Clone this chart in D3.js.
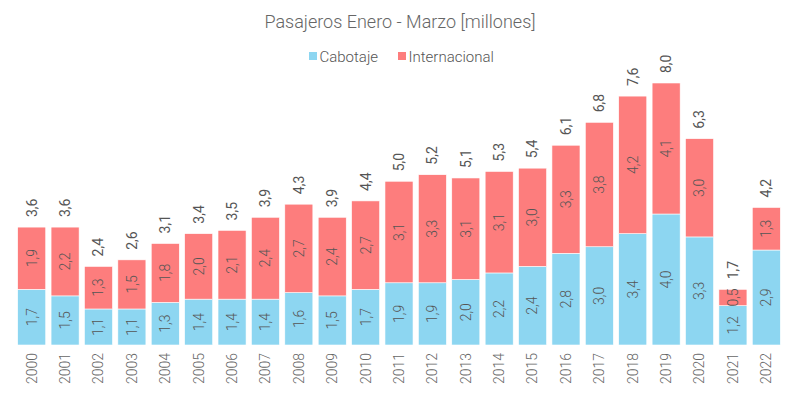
<!DOCTYPE html>
<html>
<head>
<meta charset="utf-8">
<script src="https://cdn.jsdelivr.net/npm/d3@7"></script>
<style>
  html, body { margin: 0; padding: 0; background: #fff; }
  svg { display: block; font-family: Roboto, "Noto Sans", sans-serif; }
</style>
</head>
<body>
<svg id="chart" width="800" height="400"></svg>
<script>
const years = ["2000","2001","2002","2003","2004","2005","2006","2007","2008","2009","2010","2011","2012","2013","2014","2015","2016","2017","2018","2019","2020","2021","2022"];
const cabotaje = [1.7,1.5,1.1,1.1,1.3,1.4,1.4,1.4,1.6,1.5,1.7,1.9,1.9,2.0,2.2,2.4,2.8,3.0,3.4,4.0,3.3,1.2,2.9];
const internacional = [1.9,2.2,1.3,1.5,1.8,2.0,2.1,2.4,2.7,2.4,2.7,3.1,3.3,3.1,3.1,3.0,3.3,3.8,4.2,4.1,3.0,0.5,1.3];
const totals = [3.6,3.6,2.4,2.6,3.1,3.4,3.5,3.9,4.3,3.9,4.4,5.0,5.2,5.1,5.3,5.4,6.1,6.8,7.6,8.0,6.3,1.7,4.2];
const seriesNames = ["Cabotaje","Internacional"];
const colors = ["#8dd6f1","#fd7d7d"];
const chartTitle = "Pasajeros Enero - Marzo [millones]";

(function () {
const fmt = v => d3.format(".1f")(v).replace(".", ",");
const svg = d3.select("#chart");

const data = years.map((y, i) => ({year: y, Cabotaje: cabotaje[i], Internacional: internacional[i], total: totals[i]}));

const x = d3.scaleBand().domain(years).range([15, 783]).paddingInner(0.16).paddingOuter(0.08);
const y = d3.scaleLinear().domain([0, 8]).range([345, 83]);
const color = d3.scaleOrdinal().domain(seriesNames).range(colors);

// segments: Cabotaje from 0 to its value, Internacional from Cabotaje up to the total
const segs = [];
data.forEach(d => {
  segs.push({key: "Cabotaje", year: d.year, y0: 0, y1: d.Cabotaje, v: d.Cabotaje});
  segs.push({key: "Internacional", year: d.year, y0: d.Cabotaje, y1: d.total, v: d.Internacional});
});

svg.append("text").attr("x", 400).attr("y", 28).attr("text-anchor", "middle")
  .attr("font-size", 18).attr("font-weight", 300).attr("fill", "#666").text(chartTitle);

const legendItems = [{name: "Cabotaje", x: 309}, {name: "Internacional", x: 398}];
legendItems.forEach(it => {
  svg.append("rect").attr("x", it.x).attr("y", 52).attr("width", 8).attr("height", 8).attr("fill", color(it.name));
  svg.append("text").attr("x", it.x + 10.5).attr("y", 61.5).attr("font-size", 15).attr("font-weight", 300)
    .attr("fill", "#555").text(it.name);
});

const g = svg.append("g");
g.selectAll("rect.seg").data(segs).enter().append("rect").attr("class", "seg")
  .attr("x", d => x(d.year))
  .attr("width", x.bandwidth())
  .attr("y", d => y(d.y1))
  .attr("height", d => y(d.y0) - y(d.y1))
  .attr("fill", d => color(d.key))
  .attr("stroke", "#fff").attr("stroke-width", 0.6);
g.selectAll("text.seg").data(segs).enter().append("text").attr("class", "seg")
  .attr("transform", d => `translate(${x(d.year) + x.bandwidth()/2},${(y(d.y0) + y(d.y1))/2}) rotate(-90)`)
  .attr("text-anchor", "middle").attr("dy", "0.35em")
  .attr("font-size", 14).attr("font-weight", 300).attr("fill", "#555")
  .text(d => fmt(d.v));

g.selectAll("text.tot").data(data).enter().append("text").attr("class", "tot")
  .attr("transform", d => `translate(${x(d.year) + x.bandwidth()/2},${y(d.total) - 10}) rotate(-90)`)
  .attr("text-anchor", "start").attr("dy", "0.35em")
  .attr("font-size", 14).attr("font-weight", 400).attr("fill", "#555")
  .text(d => fmt(d.total));

const xAxis = d3.axisBottom(x).tickSize(0).tickPadding(0);
const ax = svg.append("g").attr("transform", "translate(0,353)").call(xAxis);
ax.select(".domain").remove();
ax.selectAll("text")
  .attr("transform", "rotate(-90)")
  .attr("text-anchor", "end").attr("x", 0).attr("y", 0).attr("dy", "0.35em")
  .attr("font-size", 14).attr("font-weight", 300).attr("fill", "#666")
  .style("font-family", "Roboto, sans-serif");
})();
</script>
</body>
</html>
